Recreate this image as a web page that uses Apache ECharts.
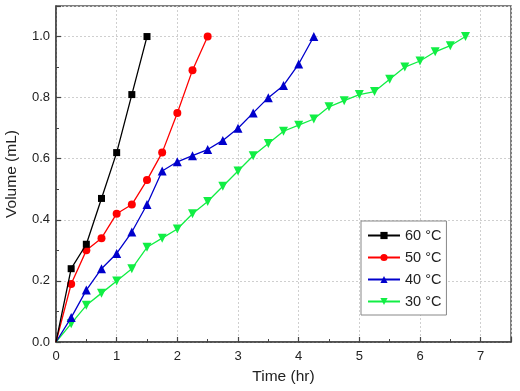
<!DOCTYPE html>
<html>
<head>
<meta charset="utf-8">
<script src="https://cdn.jsdelivr.net/npm/echarts@6/dist/echarts.min.js"></script>
<style>html,body{margin:0;padding:0;background:#fff}#c{width:520px;height:391px}</style>
</head>
<body>
<div id="c"></div>
<script>
const seriesNames = ['60 °C', '50 °C', '40 °C', '30 °C'];
const x60 = [0, 0.25, 0.5, 0.75, 1.0, 1.25, 1.5];
const y60 = [0, 0.24, 0.32, 0.47, 0.62, 0.81, 1.0];
const x50 = [0, 0.25, 0.5, 0.75, 1.0, 1.25, 1.5, 1.75, 2.0, 2.25, 2.5];
const y50 = [0, 0.19, 0.30, 0.34, 0.42, 0.45, 0.53, 0.62, 0.75, 0.89, 1.0];
const x40 = [0, 0.25, 0.5, 0.75, 1.0, 1.25, 1.5, 1.75, 2.0, 2.25, 2.5, 2.75, 3.0, 3.25, 3.5, 3.75, 4.0, 4.25];
const y40 = [0, 0.08, 0.17, 0.24, 0.29, 0.36, 0.45, 0.56, 0.59, 0.61, 0.63, 0.66, 0.70, 0.75, 0.80, 0.84, 0.91, 1.0];
const x30 = [0, 0.25, 0.5, 0.75, 1.0, 1.25, 1.5, 1.75, 2.0, 2.25, 2.5, 2.75, 3.0, 3.25, 3.5, 3.75, 4.0, 4.25, 4.5, 4.75, 5.0, 5.25, 5.5, 5.75, 6.0, 6.25, 6.5, 6.75];
const y30 = [0, 0.06, 0.12, 0.16, 0.20, 0.24, 0.31, 0.34, 0.37, 0.42, 0.46, 0.51, 0.56, 0.61, 0.65, 0.69, 0.71, 0.73, 0.77, 0.79, 0.81, 0.82, 0.86, 0.90, 0.92, 0.95, 0.97, 1.0];
const xTicks = [0, 1, 2, 3, 4, 5, 6, 7];
const yTicks = [0, 0.2, 0.4, 0.6, 0.8, 1.0];

const colors = ['#000000', '#ff0000', '#0000cc', '#11ee44'];
const symbols = ['rect', 'circle', 'triangle', 'path://M0,0 L10,0 L5,9 Z'];
const sizes = [7, 8, 9, 9];
const xs = [x60, x50, x40, x30];
const ys = [y60, y50, y40, y30];

const chart = echarts.init(document.getElementById('c'));
const font = 'Liberation Sans, Arial, sans-serif';
chart.setOption({
  animation: false,
  backgroundColor: '#fff',
  grid: { left: 56, right: 9, top: 6, bottom: 49, containLabel: false, outerBoundsMode: 'none',
    show: true, borderColor: '#555', borderWidth: 1.5, backgroundColor: 'transparent' },
  legend: {
    orient: 'vertical', left: 361, top: 221,
    padding: [7, 5, 6, 6], itemGap: 7, itemWidth: 32, itemHeight: 9,
    borderColor: '#888', borderWidth: 1, backgroundColor: '#fff',
    textStyle: { fontFamily: font, fontSize: 14.5, color: '#222' },
    data: seriesNames
  },
  xAxis: {
    type: 'value', min: 0, max: 7.5, interval: 1,
    name: 'Time (hr)', nameLocation: 'middle', nameGap: 27,
    nameTextStyle: { fontFamily: font, fontSize: 15.5, color: '#222' },
    axisLine: { lineStyle: { color: '#444', width: 1.5 } },
    axisTick: { inside: true, length: 5, lineStyle: { color: '#444', width: 1.2 } },
    minorTick: { show: true, splitNumber: 2, length: 3, lineStyle: { color: '#444' } },
    axisLabel: { fontFamily: font, fontSize: 13, color: '#222', margin: 8,
      formatter: v => xTicks.includes(v) ? String(v) : '' },
    splitLine: { show: true, lineStyle: { color: '#cfcfcf', type: [2, 2], width: 1 } }
  },
  yAxis: {
    type: 'value', min: 0, max: 1.1, interval: 0.2,
    name: 'Volume (mL)', nameLocation: 'middle', nameGap: 36,
    nameTextStyle: { fontFamily: font, fontSize: 15.5, color: '#222' },
    axisLine: { show: true, lineStyle: { color: '#444', width: 1.5 } },
    axisTick: { show: true, inside: true, length: 5, lineStyle: { color: '#444', width: 1.2 } },
    minorTick: { show: true, splitNumber: 2, length: 3, lineStyle: { color: '#444' } },
    axisLabel: { fontFamily: font, fontSize: 13, color: '#222', margin: 6,
      formatter: v => yTicks.some(t => Math.abs(t - v) < 1e-6) ? v.toFixed(1) : '' },
    splitLine: { show: true, lineStyle: { color: '#cfcfcf', type: [2, 2], width: 1 } }
  },
  series: seriesNames.map((n, i) => ({
    name: n, type: 'line',
    data: xs[i].map((x, j) => j === 0 ? { value: [x, ys[i][j]], symbol: 'none' } : [x, ys[i][j]]),
    symbol: symbols[i], symbolSize: sizes[i],
    showAllSymbol: true,
    lineStyle: { color: colors[i], width: 1.3 },
    itemStyle: { color: colors[i], borderWidth: 0 },
    z: 10 - i
  }))
});
</script>
</body>
</html>
